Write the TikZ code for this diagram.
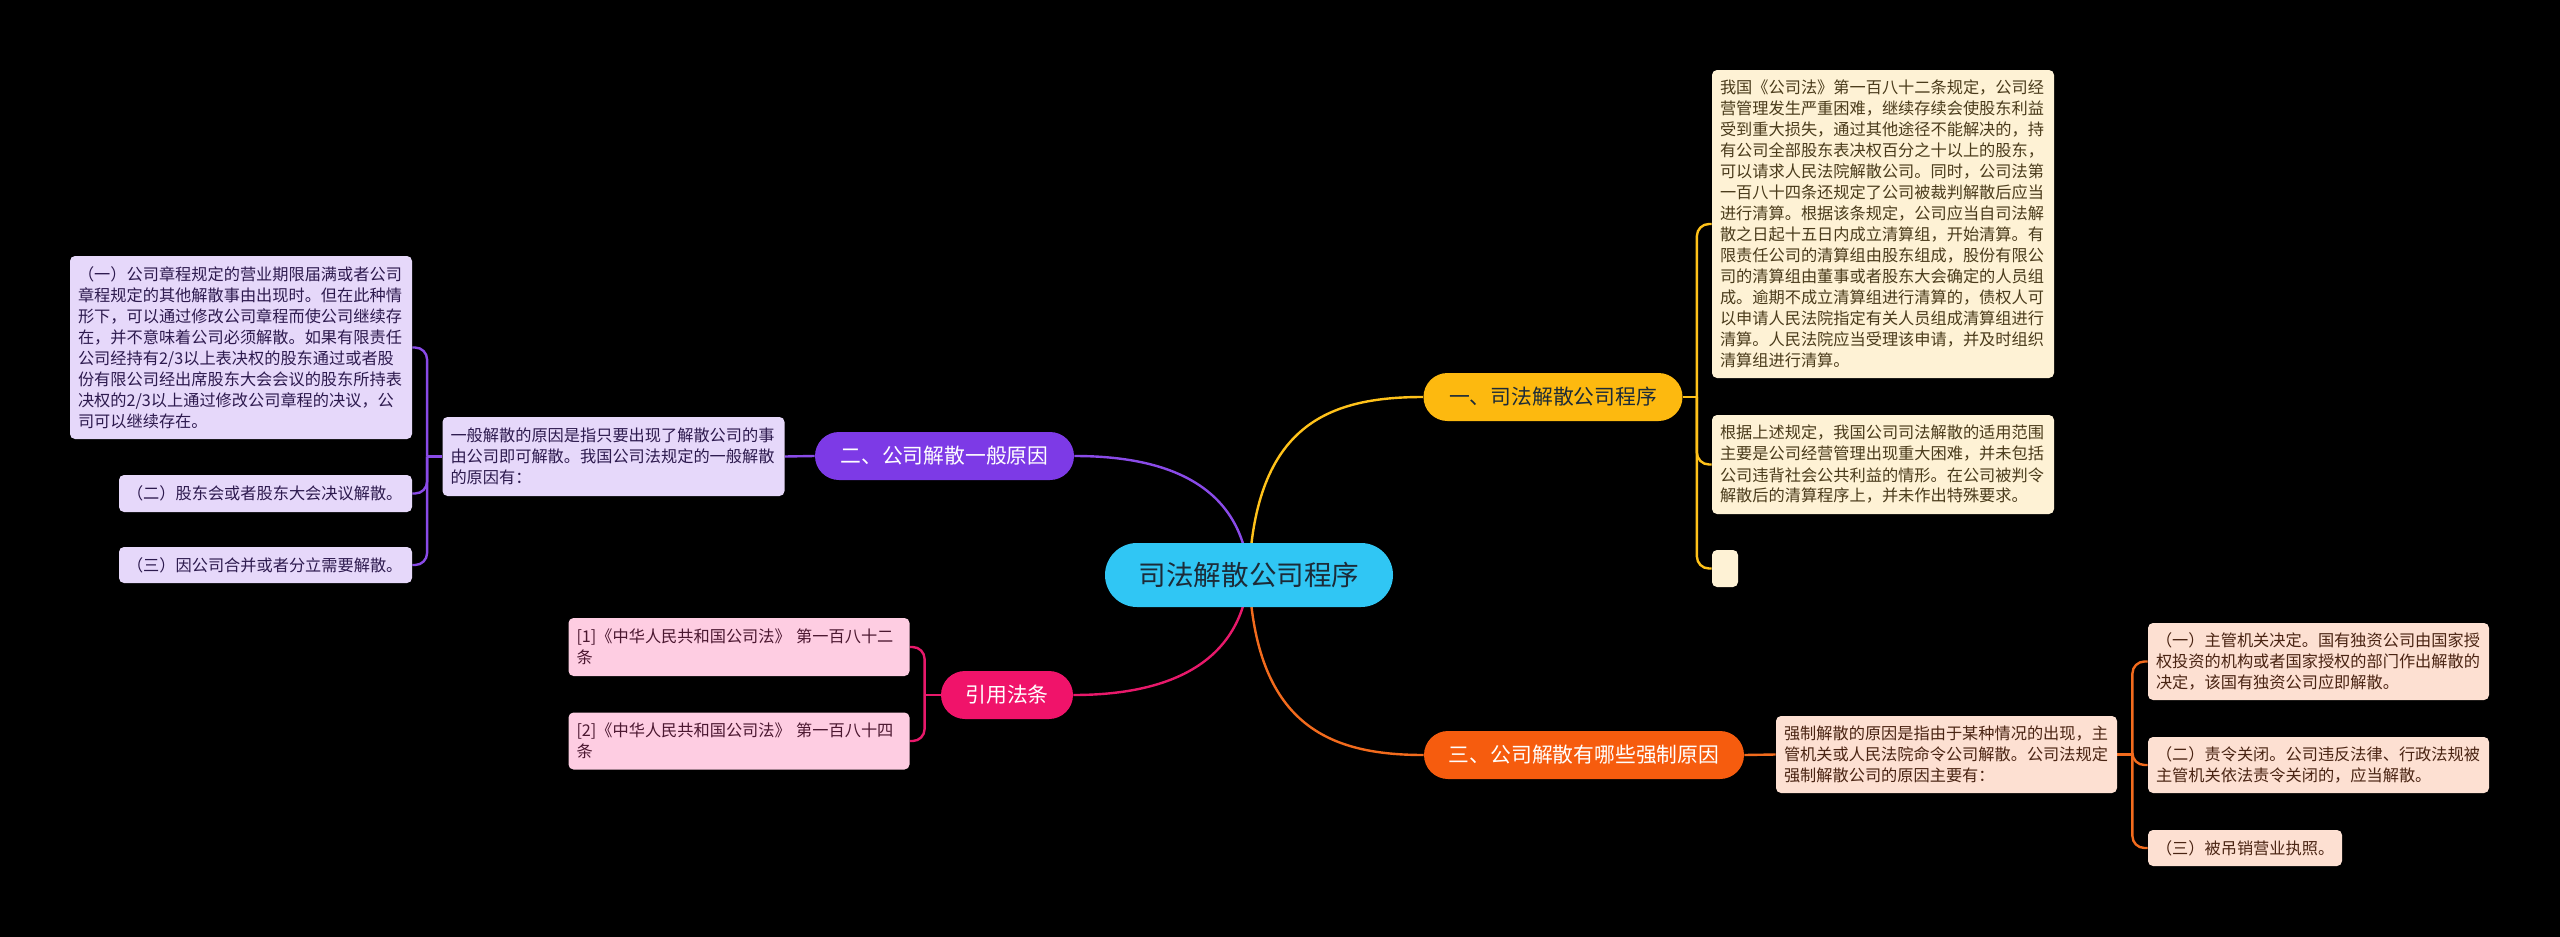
\documentclass[tikz,border=0pt]{standalone}
\usepackage{fontspec}
\newfontfamily\cjk{Noto Sans CJK SC}
\usetikzlibrary{backgrounds}
\newcommand\smallcjk{\cjk\fontsize{8.1pt}{10.5pt}\selectfont}
\newcommand\branchcjk{\cjk\fontsize{10.4pt}{12pt}\selectfont}
\newcommand\centercjk{\cjk\fontsize{13.8pt}{16pt}\selectfont}
\definecolor{bgblack}{HTML}{000000}
\definecolor{ccyan}{HTML}{30C6F4}
\definecolor{ctext}{HTML}{1C2B38}
\definecolor{yline}{HTML}{FFC21A}
\definecolor{yfill}{HTML}{FDB90F}
\definecolor{ydesc}{HTML}{FEF2D5}
\definecolor{ytext}{HTML}{4A3B1B}
\definecolor{pline}{HTML}{8A4BE8}
\definecolor{pfill}{HTML}{7D3AE6}
\definecolor{pdesc}{HTML}{E6D8FA}
\definecolor{ptext}{HTML}{2D1A4E}
\definecolor{kline}{HTML}{E8196B}
\definecolor{kfill}{HTML}{F0136A}
\definecolor{kdesc}{HTML}{FECDE2}
\definecolor{ktext}{HTML}{4B1730}
\definecolor{oline}{HTML}{F26B1D}
\definecolor{ofill}{HTML}{F65C0E}
\definecolor{odesc}{HTML}{FDE0D2}
\definecolor{otext}{HTML}{4A2413}
\tikzset{
  descbox/.style={rounded corners=2.5pt, inner xsep=4pt, inner ysep=1pt, align=left, font=\smallcjk},
  ybox/.style={descbox, fill=ydesc, text=ytext},
  pbox/.style={descbox, fill=pdesc, text=ptext},
  kbox/.style={descbox, fill=kdesc, text=ktext},
  obox/.style={descbox, fill=odesc, text=otext},
  branchbox/.style={rounded corners=12pt, inner sep=0pt, minimum height=24pt, font=\branchcjk},
  link/.style={line width=1.2pt},
  bracelink/.style={line width=1.2pt, rounded corners=6pt},
}
\begin{document}
\begin{tikzpicture}[x=0.5pt,y=-0.5pt]
\useasboundingbox (0,0) rectangle (2560,937);

% central node
\node[rounded corners=16pt, inner sep=0pt, minimum width=144pt, minimum height=32pt, fill=ccyan, text=ctext, font=\centercjk] (c) at (1249,575) {司法解散公司程序};

% main branches
\node[branchbox, fill=yfill, text=ctext, minimum width=129.5pt] (b1) at (1553,397) {一、司法解散公司程序};
\node[branchbox, fill=pfill, text=white, minimum width=129.5pt] (b2) at (944.5,456) {二、公司解散一般原因};
\node[branchbox, fill=ofill, text=white, minimum width=160pt] (b3) at (1584,755) {三、公司解散有哪些强制原因};
\node[branchbox, fill=kfill, text=white, minimum width=66pt] (b4) at (1007,695) {引用法条};

% yellow branch details
\node[ybox, text width=163pt, minimum height=154pt] (y1) at (1883,224) {我国《公司法》第一百八十二条规定，公司经\\营管理发生严重困难，继续存续会使股东利益\\受到重大损失，通过其他途径不能解决的，持\\有公司全部股东表决权百分之十以上的股东，\\可以请求人民法院解散公司。同时，公司法第\\一百八十四条还规定了公司被裁判解散后应当\\进行清算。根据该条规定，公司应当自司法解\\散之日起十五日内成立清算组，开始清算。有\\限责任公司的清算组由股东组成，股份有限公\\司的清算组由董事或者股东大会确定的人员组\\成。逾期不成立清算组进行清算的，债权人可\\以申请人民法院指定有关人员组成清算组进行\\清算。人民法院应当受理该申请，并及时组织\\清算组进行清算。};
\node[ybox, text width=163pt, minimum height=49.5pt] (y2) at (1883,464.5) {根据上述规定，我国公司司法解散的适用范围\\主要是公司经营管理出现重大困难，并未包括\\公司违背社会公共利益的情形。在公司被判令\\解散后的清算程序上，并未作出特殊要求。};
\node[rounded corners=2.5pt, inner sep=0pt, fill=ydesc, minimum width=13pt, minimum height=18.5pt] (y3) at (1725,568.5) {};

% purple branch details
\node[pbox, text width=163pt, minimum height=39.5pt] (pd) at (613.5,456.5) {一般解散的原因是指只要出现了解散公司的事\\由公司即可解散。我国公司法规定的一般解散\\的原因有：};
\node[pbox, text width=163pt, minimum height=91.5pt] (p1) at (241,347.5) {（一）公司章程规定的营业期限届满或者公司\\章程规定的其他解散事由出现时。但在此种情\\形下，可以通过修改公司章程而使公司继续存\\在，并不意味着公司必须解散。如果有限责任\\公司经持有2/3以上表决权的股东通过或者股\\份有限公司经出席股东大会会议的股东所持表\\决权的2/3以上通过修改公司章程的决议，公\\司可以继续存在。};
\node[pbox, text width=138.5pt, minimum height=18.5pt] (p2) at (265.5,493.5) {（二）股东会或者股东大会决议解散。};
\node[pbox, text width=138.5pt, minimum height=18pt] (p3) at (265.5,565) {（三）因公司合并或者分立需要解散。};

% pink branch details
\node[kbox, text width=162.5pt, minimum height=29pt] (k1) at (739,647) {[1]《中华人民共和国公司法》 第一百八十二\\条};
\node[kbox, text width=162.5pt, minimum height=28.5pt] (k2) at (739,741) {[2]《中华人民共和国公司法》 第一百八十四\\条};

% orange branch details
\node[obox, text width=162.5pt, minimum height=38.5pt] (od) at (1946.5,754.5) {强制解散的原因是指由于某种情况的出现，主\\管机关或人民法院命令公司解散。公司法规定\\强制解散公司的原因主要有：};
\node[obox, text width=162.5pt, minimum height=38.5pt] (o1) at (2318.5,661.5) {（一）主管机关决定。国有独资公司由国家授\\权投资的机构或者国家授权的部门作出解散的\\决定，该国有独资公司应即解散。};
\node[obox, text width=162.5pt, minimum height=28pt] (o2) at (2318.5,765) {（二）责令关闭。公司违反法律、行政法规被\\主管机关依法责令关闭的，应当解散。};
\node[obox, text width=89pt, minimum height=18pt] (o3) at (2245,848) {（三）被吊销营业执照。};

\begin{scope}[on background layer]
\fill[bgblack] (0,0) rectangle (2560,937);
% centre to branches
\draw[link, yline] (c.center) .. controls +(6,-150) and +(-95,0) .. (b1.west);
\draw[link, pline] (c.center) .. controls +(-8,-95) and +(85,0) .. (b2.east);
\draw[link, kline] (c.center) .. controls +(-8,95) and +(85,0) .. (b4.east);
\draw[link, oline] (c.center) .. controls +(6,150) and +(-95,0) .. (b3.west);
% yellow
\draw[link, yline] (b1.east) -- ++(14,0) coordinate (yj);
\draw[bracelink, yline] (yj) |- (y1.west);
\draw[bracelink, yline] (yj) |- (y2.west);
\draw[bracelink, yline] (yj) |- (y3.west);
% purple
\draw[link, pline] (b2.west) -- (pd.east);
\draw[link, pline] (pd.west) -- ++(-15,0) coordinate (pj);
\draw[bracelink, pline] (pj) |- (p1.east);
\draw[bracelink, pline] (pj) |- (p2.east);
\draw[bracelink, pline] (pj) |- (p3.east);
% pink
\draw[link, kline] (b4.west) -- ++(-16,0) coordinate (kj);
\draw[bracelink, kline] (kj) |- (k1.east);
\draw[bracelink, kline] (kj) |- (k2.east);
% orange
\draw[link, oline] (b3.east) -- (od.west);
\draw[link, oline] (od.east) -- ++(15,0) coordinate (oj);
\draw[bracelink, oline] (oj) |- (o1.west);
\draw[bracelink, oline] (oj) |- (o2.west);
\draw[bracelink, oline] (oj) |- (o3.west);
\end{scope}
\end{tikzpicture}
\end{document}
